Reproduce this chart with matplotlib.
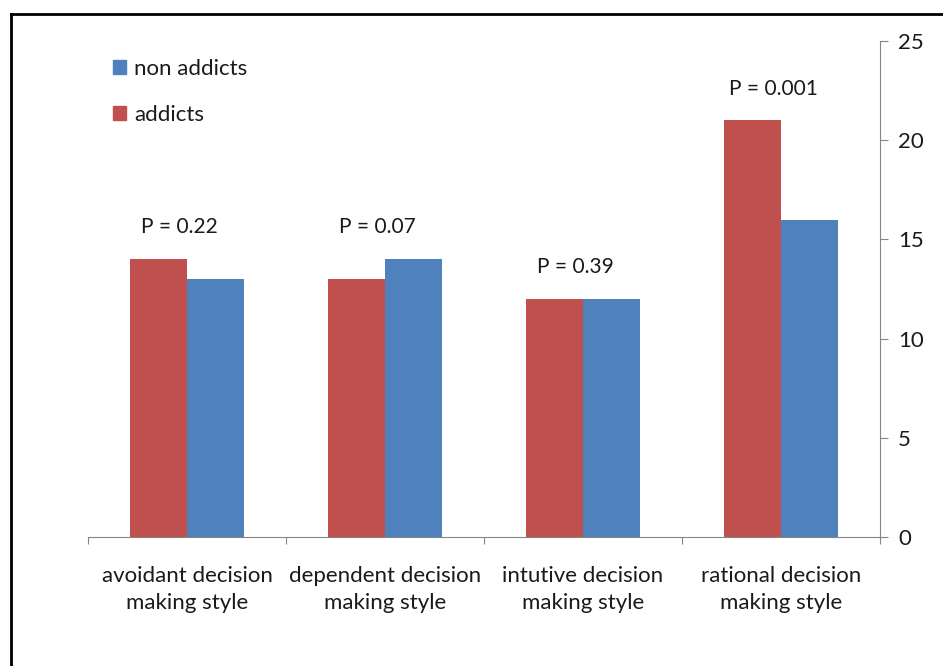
import matplotlib.pyplot as plt
import numpy as np
from matplotlib.patches import Patch

plt.rcParams['font.family'] = ['Lato', 'DejaVu Sans']

categories = ['avoidant decision\nmaking style', 'dependent decision\nmaking style',
              'intutive decision\nmaking style', 'rational decision\nmaking style']
addicts = [14, 13, 12, 21]
non_addicts = [13, 14, 12, 16]
p_labels = ['P = 0.22', 'P = 0.07', 'P = 0.39', 'P = 0.001']

red = '#C0504D'
blue = '#4F81BD'
grey = '#868686'
txt = '#1a1a1a'

fig = plt.figure(figsize=(9.43, 6.66), dpi=100)
ax = fig.add_axes([88 / 943, 129 / 666, (880 - 88) / 943, (537 - 41) / 666])

x = np.arange(len(categories))
w = 0.29
ax.bar(x - w / 2, addicts, w, color=red, label='addicts')
ax.bar(x + w / 2, non_addicts, w, color=blue, label='non addicts')

for i, lab in enumerate(p_labels):
    ax.text(x[i] - 0.04, max(addicts[i], non_addicts[i]) + 1.6, lab,
            ha='center', va='center', fontsize=15, color=txt)

ax.set_xlim(-0.5, 3.5)
ax.set_ylim(0, 25)
ax.set_yticks(range(0, 26, 5))
ax.yaxis.tick_right()
ax.set_xticks(np.arange(-0.5, 3.6, 1), minor=False)
ax.set_xticklabels([])
ax.set_xticks(x, minor=True)
ax.set_xticklabels(categories, minor=True, fontsize=16, color=txt, linespacing=1.45)
ax.tick_params(axis='x', which='minor', length=0, pad=21)
ax.tick_params(axis='x', which='major', length=5, color=grey, direction='out')
ax.tick_params(axis='y', length=6, color=grey, labelsize=16, labelcolor=txt, pad=7)

for s in ['top', 'left']:
    ax.spines[s].set_visible(False)
ax.spines['right'].set_color(grey)
ax.spines['bottom'].set_color(grey)

handles = [Patch(color=blue, label='non addicts'), Patch(color=red, label='addicts')]
leg = fig.legend(handles=handles, loc='upper left', bbox_to_anchor=(113 / 943, 1 - 59 / 666),
                 frameon=False, fontsize=16, handlelength=0.6, handleheight=0.6,
                 labelspacing=1.15, handletextpad=0.35, borderpad=0, borderaxespad=0)
for t in leg.get_texts():
    t.set_color(txt)

# frame lines around the picture (left and top only visible)
fig.add_artist(plt.Line2D([11 / 943, 11 / 943], [0, 1 - 14 / 666], color='black', lw=2))
fig.add_artist(plt.Line2D([11 / 943, 1], [1 - 14 / 666, 1 - 14 / 666], color='black', lw=2))

plt.savefig('out.png', dpi=100)
